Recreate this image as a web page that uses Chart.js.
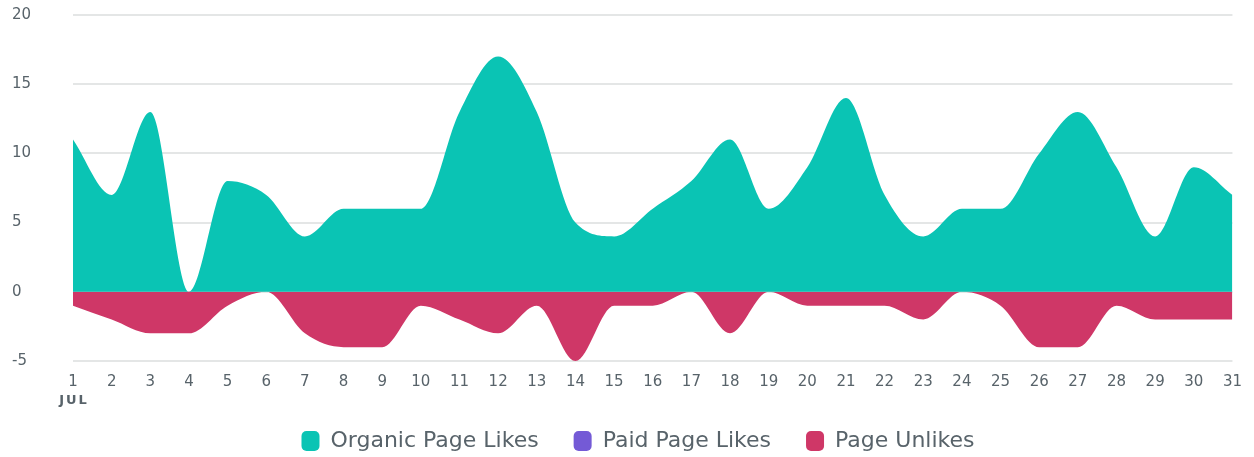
<!DOCTYPE html>
<html>
<head>
<meta charset="utf-8">
<script src="https://cdn.jsdelivr.net/npm/chart.js@4"></script>
<style>
  html, body { margin: 0; padding: 0; background: #fff; }
  #wrap { width: 1254px; height: 457px; }
</style>
</head>
<body>
<div id="wrap"><canvas id="likesChart" width="1254" height="457"></canvas></div>
<script>
const days = ['1', '2', '3', '4', '5', '6', '7', '8', '9', '10', '11', '12', '13', '14', '15', '16',
    '17', '18', '19', '20', '21', '22', '23', '24', '25', '26', '27', '28', '29', '30', '31'];
const monthLabel = 'JUL';
const organicLikes = [11, 7, 13, 0, 8, 7, 4, 6, 6, 6, 13, 17, 13, 5, 4, 6, 8, 11, 6, 9, 14, 7, 4, 6, 6, 10, 13, 9, 4, 9, 7];
const paidLikes = [0, 0, 0, 0, 0, 0, 0, 0, 0, 0, 0, 0, 0, 0, 0, 0, 0, 0, 0, 0, 0, 0, 0, 0, 0, 0, 0, 0, 0, 0, 0];
const pageUnlikes = [-1, -2, -3, -3, -1, 0, -3, -4, -4, -1, -2, -3, -1, -5, -1, -1, 0, -3, 0, -1, -1, -1, -2, 0, -1, -4, -4, -1, -2, -2, -2];
const yTicks = [-5, 0, 5, 10, 15, 20];

const textColor = '#58636a';
const font = 'DejaVu Sans';

// draws the month under the first day label, nudges the legend right
const monthPlugin = {
    id: 'monthLabel',
    afterLayout(chart) {
        chart.legend.left += 15;
        chart.legend.right += 15;
    },
    afterDraw(chart) {
        const c = chart.ctx;
        const x = chart.scales.x.getPixelForValue(0);
        c.save();
        c.font = 'bold 13px "' + font + '"';
        c.fillStyle = textColor;
        c.textAlign = 'center';
        c.textBaseline = 'middle';
        c.letterSpacing = '2px';
        c.fillText(monthLabel, x + 1, 401);
        c.restore();
    }
};

const ctx = document.getElementById('likesChart');
const likesChart = new Chart(ctx, {
    type: 'line',
    data: {
        labels: days,
        datasets: [{
                label: 'Organic Page Likes',
                data: organicLikes,
                fill: 'origin',
                backgroundColor: '#0ac4b4',
                borderColor: '#0ac4b4',
                borderWidth: 0,
            },
            {
                label: 'Paid Page Likes',
                data: paidLikes,
                fill: 'origin',
                backgroundColor: '#745ad6',
                borderColor: '#745ad6',
                borderWidth: 0,
            },
            {
                label: 'Page Unlikes',
                data: pageUnlikes,
                fill: 'origin',
                backgroundColor: '#cf3767',
                borderColor: '#cf3767',
                borderWidth: 0,
            },
        ]
    },
    plugins: [monthPlugin],
    options: {
        responsive: false,
        animation: false,
        elements: {
            point: { radius: 0, hoverRadius: 0 },
            line: { cubicInterpolationMode: 'monotone' }
        },
        layout: {
            padding: { left: 12, right: 20, top: 15, bottom: -5 }
        },
        plugins: {
            tooltip: { enabled: false },
            legend: {
                position: 'bottom',
                labels: {
                    color: textColor,
                    font: { family: font, size: 22 },
                    boxWidth: 18,
                    boxHeight: 20,
                    useBorderRadius: true,
                    borderRadius: 5,
                    padding: 35
                }
            }
        },
        scales: {
            y: {
                min: -5,
                max: 20,
                afterBuildTicks(scale) {
                    scale.ticks = yTicks.map(v => ({ value: v }));
                },
                afterFit(scale) { scale.width = 61; },
                border: { display: false },
                grid: { color: '#e4e6e6', lineWidth: 2, drawTicks: false },
                ticks: {
                    crossAlign: 'far',
                    color: textColor,
                    font: { family: font, size: 15 },
                    padding: 0
                }
            },
            x: {
                offset: false,
                afterFit(scale) { scale.height = 34; },
                border: { display: false },
                grid: { display: false, drawTicks: false },
                ticks: {
                    color: textColor,
                    font: { family: font, size: 15 },
                    padding: 12,
                    maxRotation: 0,
                    autoSkip: false
                }
            }
        }
    }
});
</script>
</body>
</html>
